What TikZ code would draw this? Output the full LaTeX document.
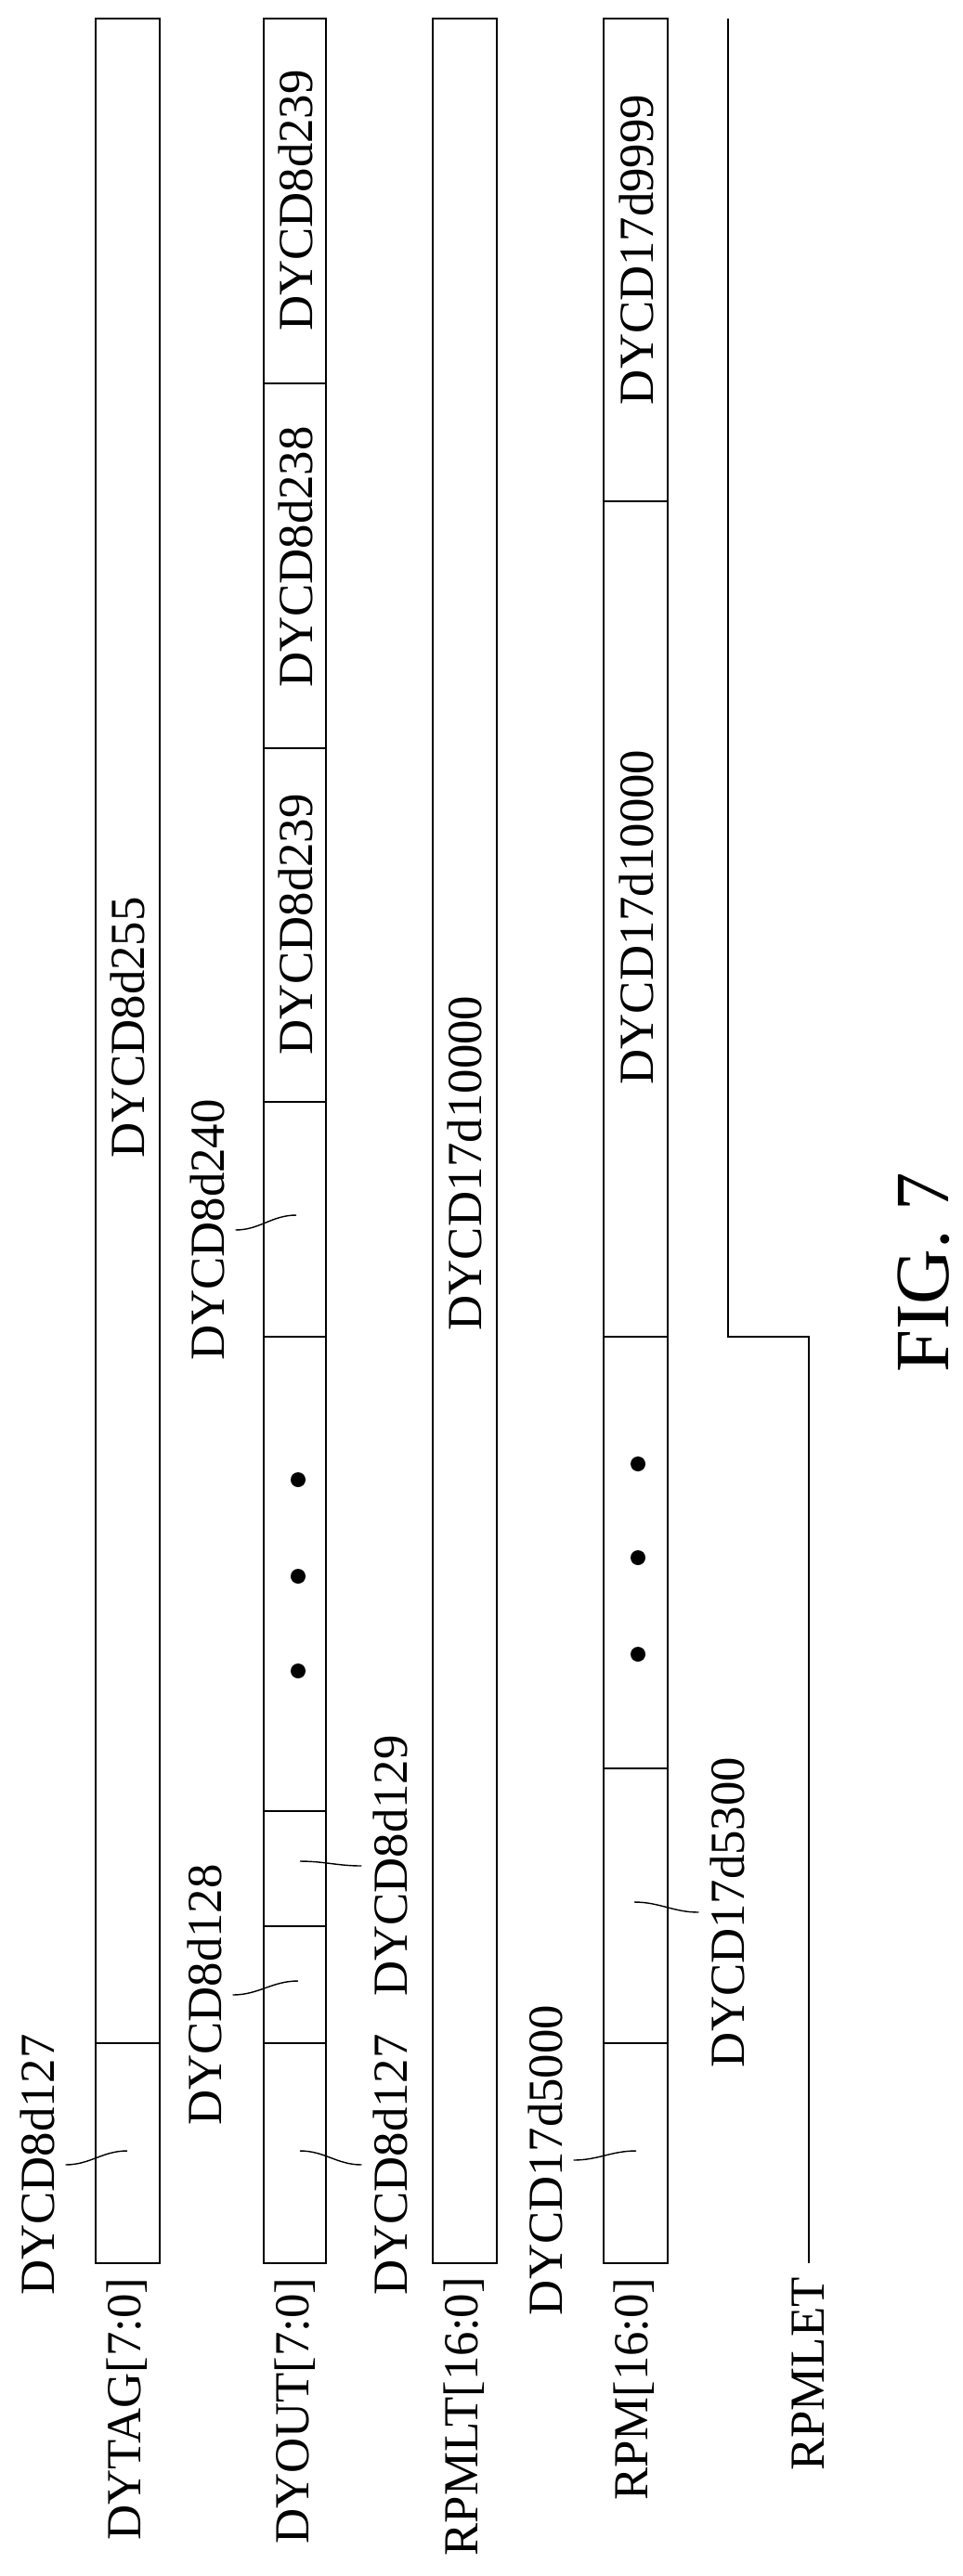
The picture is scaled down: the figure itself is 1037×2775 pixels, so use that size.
\documentclass[tikz,border=0pt]{standalone}
\usepackage{fontspec}
\setmainfont{Liberation Serif}
\usetikzlibrary{positioning}

\begin{document}
\begin{tikzpicture}[x=0.01cm,y=-0.01cm,line width=0.8pt,
bus/.style={
rectangle,
draw
},
val/.style={rotate=90,font=\fontsize{15}{15}\selectfont,inner sep=3pt},
sig/.style={rotate=90,anchor=east,font=\fontsize{15}{15}\selectfont,inner sep=0pt},
lead/.style={thin},
dot/.style={circle,fill,inner sep=0pt,minimum size=0.16cm}
]
\useasboundingbox (0,0) rectangle (1037,2775);

% buses
\draw (103,20) rectangle (172,2438);
\draw (284,20) rectangle (351,2438);
\draw (466,20) rectangle (535,2438);
\draw (650,20) rectangle (719,2438);
\draw (784,20) -- (784,1440) -- (871,1440) -- (871,2438);

% segment borders
\draw (103,2201) -- (172,2201);
\foreach \y in {413,806,1187,1440,1951,2075,2201}
  \draw (284,\y) -- (351,\y);
\foreach \y in {540,1440,1905,2201}
  \draw (650,\y) -- (719,\y);

% signal names
\node (dytag) [sig] at (137,2452) {DYTAG[7:0]};
\node (dyout) [sig] at (318,2452) {DYOUT[7:0]};
\node (rpmlt) [sig] at (500,2452) {RPMLT[16:0]};
\node (rpm) [sig] at (683,2452) {RPM[16:0]};
\node (rpmlet) [sig] at (870,2452) {RPMLET};

% values inside
\node (tag255) [val] at (137,1107) {DYCD8d255};
\node (out239a) [val] at (318,216) {DYCD8d239};
\node (out238) [val] at (318,600) {DYCD8d238};
\node (out239b) [val] at (318,996) {DYCD8d239};
\node (lt10000) [val] at (500,1253) {DYCD17d10000};
\node (rpm9999) [val] at (685,269) {DYCD17d9999};
\node (rpm10000) [val] at (685,988) {DYCD17d10000};
\foreach \y in {1594,1698,1800}
  \node [dot] at (321,\y) {};
\foreach \y in {1577,1678,1782}
  \node [dot] at (687,\y) {};

% values with leaders
\node (tag127) [val] at (40,2332) {DYCD8d127};
\node (out128) [val] at (220,2149) {DYCD8d128};
\node (out240) [val] at (223,1325) {DYCD8d240};
\node (out129) [val] at (420,2010) {DYCD8d129};
\node (out127) [val] at (420,2332) {DYCD8d127};
\node (rpm5000) [val] at (587,2327) {DYCD17d5000};
\node (rpm5300) [val] at (783,2060) {DYCD17d5300};

\coordinate (c127) at (137,2317);
\coordinate (c128) at (321,2134);
\coordinate (c240) at (319,1309);
\coordinate (c129) at (323,2005);
\coordinate (co127) at (323,2317);
\coordinate (c5000) at (685,2317);
\coordinate (c5300) at (683,2049);

\draw[lead] (tag127.south) to[out=0,in=180] (c127);
\draw[lead] (out128.south) to[out=0,in=180] (c128);
\draw[lead] (out240.south) to[out=0,in=180] (c240);
\draw[lead] (rpm5000.south) to[out=0,in=180] (c5000);
\draw[lead] (out129.north) to[out=180,in=0] (c129);
\draw[lead] (out127.north) to[out=180,in=0] (co127);
\draw[lead] (rpm5300.north) to[out=180,in=0] (c5300);

\node (fig) [rotate=90,font=\fontsize{23.5}{24}\selectfont] at (995,1371) {FIG. 7};
\end{tikzpicture}
\end{document}
